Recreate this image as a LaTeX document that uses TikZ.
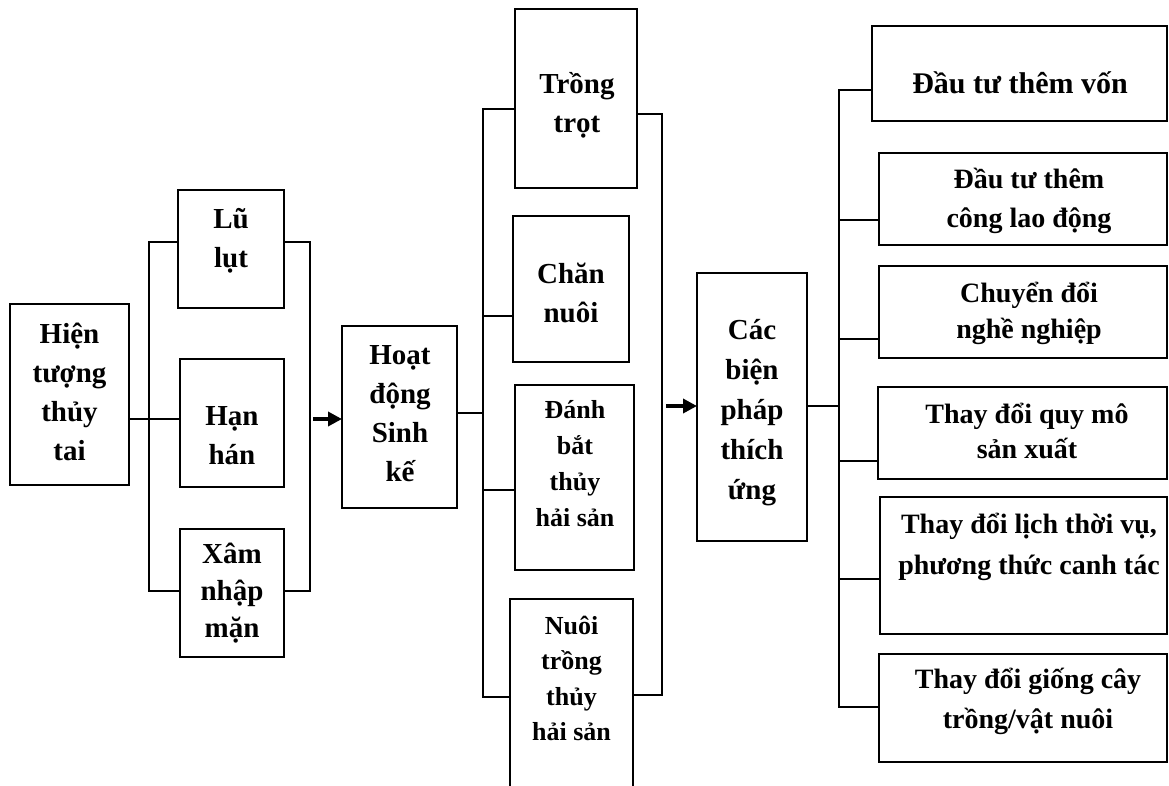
\documentclass[tikz,border=0pt]{standalone}
\usepackage{fontspec}
\setmainfont{Liberation Serif}
\usetikzlibrary{arrows.meta}
\newcommand\mlin[1]{\begin{tabular}[t]{@{}c@{}}#1\end{tabular}}
\tikzset{
  box/.style={draw=black, line width=2pt, anchor=north west, inner sep=0pt, outer sep=0pt},
  conn/.style={draw=black, line width=2.1pt},
  arr/.style={draw=black, line width=3.6pt, -{Triangle[length=14pt,width=14pt]}},
  txt/.style={anchor=base, inner sep=0pt, outer sep=0pt, font=\bfseries\fontsize{29}{39}\selectfont},
  txtsm/.style={txt, font=\bfseries\fontsize{26}{35.5}\selectfont},
}
\begin{document}
\begin{tikzpicture}[x=1pt,y=-1pt]
\useasboundingbox (0,0) rectangle (1169,785);
\clip (0,0) rectangle (1169,785);
% boxes
\node[box, minimum width=119pt, minimum height=181pt] (hien) at (10,304) {};
\node[box, minimum width=106pt, minimum height=118pt] (lu) at (178,190) {};
\node[box, minimum width=104pt, minimum height=128pt] (han) at (180,359) {};
\node[box, minimum width=104pt, minimum height=128pt] (xam) at (180,529) {};
\node[box, minimum width=115pt, minimum height=182pt] (hoat) at (342,326) {};
\node[box, minimum width=122pt, minimum height=179pt] (trong) at (515,9) {};
\node[box, minimum width=116pt, minimum height=146pt] (chan) at (513,216) {};
\node[box, minimum width=119pt, minimum height=185pt] (danh) at (515,385) {};
\node[box, minimum width=123pt, minimum height=215pt] (nuoi) at (510,599) {};
\node[box, minimum width=110pt, minimum height=268pt] (cac) at (697,273) {};
\node[box, minimum width=295pt, minimum height=95pt] (r1) at (872,26) {};
\node[box, minimum width=288pt, minimum height=92pt] (r2) at (879,153) {};
\node[box, minimum width=288pt, minimum height=92pt] (r3) at (879,266) {};
\node[box, minimum width=289pt, minimum height=92pt] (r4) at (878,387) {};
\node[box, minimum width=287pt, minimum height=137pt] (r5) at (880,497) {};
\node[box, minimum width=288pt, minimum height=108pt] (r6) at (879,654) {};
% texts
\node[txt] (hient) at (69.5,343) {\mlin{Hiện\\tượng\\thủy\\tai}};
\node[txt] (lut) at (231,228) {\mlin{Lũ\\lụt}};
\node[txt] (hant) at (232,425) {\mlin{Hạn\\hán}};
\node[txt, font=\bfseries\fontsize{29}{37}\selectfont] (xamt) at (232,563) {\mlin{Xâm\\nhập\\mặn}};
\node[txt] (hoatt) at (400,364) {\mlin{Hoạt\\động\\Sinh\\kế}};
\node[txt] (trongt) at (577,93) {\mlin{Trồng\\trọt}};
\node[txt] (chant) at (571,283) {\mlin{Chăn\\nuôi}};
\node[txtsm, font=\bfseries\fontsize{26}{36}\selectfont] (danht) at (575,418) {\mlin{Đánh\\bắt\\thủy\\hải sản}};
\node[txtsm] (nuoit) at (571.5,634) {\mlin{Nuôi\\trồng\\thủy\\hải sản}};
\node[txt, font=\bfseries\fontsize{29}{40}\selectfont] (cact) at (752,339) {\mlin{Các\\biện\\pháp\\thích\\ứng}};
\node[txt, font=\bfseries\fontsize{30}{38}\selectfont] (r1t) at (1020,93) {Đầu tư thêm vốn};
\node[txt, font=\bfseries\fontsize{28}{39}\selectfont] (r2t) at (1029,188) {\mlin{Đầu tư thêm\\công lao động}};
\node[txt, font=\bfseries\fontsize{28}{36}\selectfont] (r3t) at (1029,302) {\mlin{Chuyển đổi\\nghề nghiệp}};
\node[txt, font=\bfseries\fontsize{28}{35}\selectfont] (r4t) at (1027,423) {\mlin{Thay đổi quy mô\\sản xuất}};
\node[txt, font=\bfseries\fontsize{28}{41}\selectfont] (r5t) at (1029,533) {\mlin{Thay đổi lịch thời vụ,\\phương thức canh tác}};
\node[txt, font=\bfseries\fontsize{28}{40}\selectfont] (r6t) at (1028,688) {\mlin{Thay đổi giống cây\\trồng/vật nuôi}};
% coordinates
\coordinate (L1) at (149,242);
\coordinate (L2) at (149,591);
\coordinate (H1) at (129,419);
\coordinate (R1) at (310,242);
\coordinate (R2) at (310,591);
\coordinate (A1) at (313,419);
\coordinate (M0) at (483,413);
\coordinate (ML1) at (483,109);
\coordinate (ML2) at (483,697);
\coordinate (MC) at (483,316);
\coordinate (MD) at (483,490);
\coordinate (MR1) at (662,114);
\coordinate (MR2) at (662,695);
\coordinate (A2) at (666,406);
\coordinate (C0) at (839,406);
\coordinate (RB1) at (839,90);
\coordinate (RB2) at (839,220);
\coordinate (RB3) at (839,339);
\coordinate (RB4) at (839,461);
\coordinate (RB5) at (839,579);
\coordinate (RB6) at (839,707);
% left group
\draw[conn] (lu.west |- L1) -- (L1) -- (L2) -- (xam.west |- L2);
\draw[conn] (hien.east |- H1) -- (han.west |- H1);
\draw[conn] (lu.east |- R1) -- (R1) -- (R2) -- (xam.east |- R2);
\draw[arr] (A1) -- (hoat.west |- A1);
% middle group
\draw[conn] (hoat.east |- M0) -- (M0);
\draw[conn] (trong.west |- ML1) -- (ML1) -- (ML2) -- (nuoi.west |- ML2);
\draw[conn] (MC) -- (chan.west |- MC);
\draw[conn] (MD) -- (danh.west |- MD);
\draw[conn] (trong.east |- MR1) -- (MR1) -- (MR2) -- (nuoi.east |- MR2);
\draw[arr] (A2) -- (cac.west |- A2);
% right group
\draw[conn] (cac.east |- C0) -- (C0);
\draw[conn] (r1.west |- RB1) -- (RB1) -- (RB6) -- (r6.west |- RB6);
\draw[conn] (RB2) -- (r2.west |- RB2);
\draw[conn] (RB3) -- (r3.west |- RB3);
\draw[conn] (RB4) -- (r4.west |- RB4);
\draw[conn] (RB5) -- (r5.west |- RB5);
\end{tikzpicture}
\end{document}
